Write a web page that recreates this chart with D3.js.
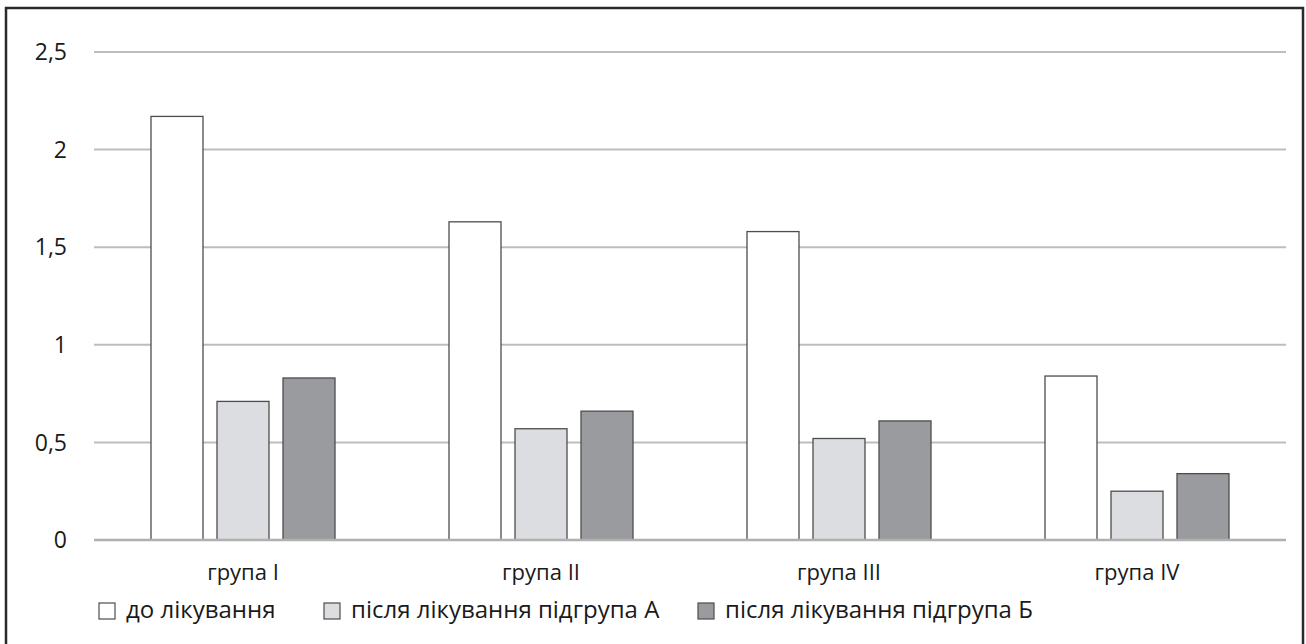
<!DOCTYPE html>
<html lang="uk">
  <head>
    <meta charset="utf-8" />
    <title>Групи до і після лікування</title>
    <script src="https://cdn.jsdelivr.net/npm/d3@7"></script>
    <style>
      body {
        margin: 0;
        background: #fff;
      }
      text {
        font-family: "Open Sans", "Noto Sans", sans-serif;
        fill: #1a1a1a;
      }
    </style>
  </head>
  <body>
    <svg id="chart"></svg>
    <script>
      const groups = ["група I", "група II", "група III", "група IV"];
      const seriesNames = ["до лікування", "після лікування підгрупа А", "після лікування підгрупа Б"];
      const before = [2.17, 1.63, 1.58, 0.84];
      const afterA = [0.71, 0.57, 0.52, 0.25];
      const afterB = [0.83, 0.66, 0.61, 0.34];
      const yTicks = [0, 0.5, 1, 1.5, 2, 2.5];
      const colors = ["#ffffff", "#dcdde0", "#9a9b9e"];

      const width = 1306;
      const height = 644;
      const margin = { top: 52, right: 20, bottom: 104, left: 94 };

      const svg = d3.select("#chart").attr("width", width).attr("height", height);

      // frame around the chart
      svg.append("rect")
        .attr("x", 6).attr("y", 8)
        .attr("width", 1297).attr("height", 650)
        .attr("fill", "none")
        .attr("stroke", "#2a2a2a")
        .attr("stroke-width", 2.5);

      const g = svg.append("g").attr("transform", `translate(${margin.left},${margin.top})`);
      const w = 1286 - margin.left;
      const h = 540 - margin.top;

      const x0 = d3.scaleBand().domain(groups).range([0, w]);
      const c = x0.bandwidth() / 2;
      const x1 = d3.scaleBand().domain(d3.range(3)).range([c - 92, c + 92]).paddingInner(14 / 66).paddingOuter(0);
      const y = d3.scaleLinear().domain([0, 2.5]).range([h, 0]);

      // gridlines
      g.selectAll("line.grid")
        .data(yTicks.filter(t => t > 0))
        .join("line")
        .attr("class", "grid")
        .attr("x1", 0).attr("x2", w)
        .attr("y1", d => y(d)).attr("y2", d => y(d))
        .attr("stroke", "#bdbdbd")
        .attr("stroke-width", 2);

      // y labels
      g.selectAll("text.ytick")
        .data(yTicks)
        .join("text")
        .attr("class", "ytick")
        .attr("x", -27)
        .attr("y", d => y(d))
        .attr("dy", "0.36em")
        .attr("text-anchor", "end")
        .attr("font-size", 23)
        .text(d => String(d).replace(".", ","));

      const rows = groups.map((grp, i) => ({ grp, vals: [before[i], afterA[i], afterB[i]] }));

      const grpG = g.selectAll("g.grp")
        .data(rows)
        .join("g")
        .attr("class", "grp")
        .attr("transform", d => `translate(${x0(d.grp)},0)`);

      grpG.selectAll("rect")
        .data(d => d.vals.map((v, k) => ({ v, k })))
        .join("rect")
        .attr("x", d => x1(d.k))
        .attr("width", x1.bandwidth())
        .attr("y", d => y(d.v))
        .attr("height", d => h - y(d.v))
        .attr("fill", d => colors[d.k])
        .attr("stroke", "#4d4d4d")
        .attr("stroke-width", 1.3);

      // baseline
      g.append("line")
        .attr("x1", 0).attr("x2", w)
        .attr("y1", h).attr("y2", h)
        .attr("stroke", "#b0b0b0")
        .attr("stroke-width", 2.5);

      // category labels
      g.selectAll("text.xlab")
        .data(groups)
        .join("text")
        .attr("class", "xlab")
        .attr("x", d => x0(d) + x0.bandwidth() / 2)
        .attr("y", h + 40)
        .attr("text-anchor", "middle")
        .attr("font-size", 22)
        .text(d => d);

      // legend
      const legendX = [99, 324, 698];
      const legend = svg.selectAll("g.legend")
        .data(seriesNames)
        .join("g")
        .attr("class", "legend")
        .attr("transform", (d, i) => `translate(${legendX[i]},603)`);

      legend.append("rect")
        .attr("width", 16).attr("height", 16)
        .attr("fill", (d, i) => colors[i])
        .attr("stroke", "#4d4d4d")
        .attr("stroke-width", 1.2);

      legend.append("text")
        .attr("x", 27)
        .attr("y", 15)
        .attr("font-size", 24)
        .text(d => d);
    </script>
  </body>
</html>
